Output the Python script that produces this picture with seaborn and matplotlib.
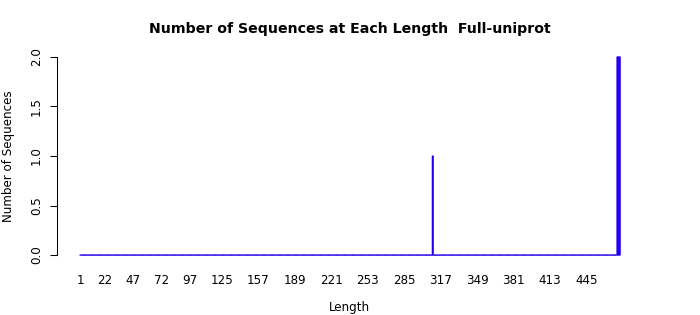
import numpy as np
import pandas as pd
import matplotlib
matplotlib.use("Agg")
import matplotlib.pyplot as plt
import seaborn as sns

# ---- data ----
max_length = 474
nonzero_counts = {310: 1, 472: 2, 473: 2, 474: 2}
lengths = list(range(1, max_length + 1))
counts = [nonzero_counts.get(L, 0) for L in lengths]
tick_labels = ["1", "22", "47", "72", "97", "125", "157", "189", "221",
               "253", "285", "317", "349", "381", "413", "445"]
y_ticks = [0.0, 0.5, 1.0, 1.5, 2.0]
title = "Number of Sequences at Each Length  Full-uniprot"
x_label = "Length"
y_label = "Number of Sequences"

df = pd.DataFrame({"length": lengths, "count": counts})

sns.set_style("white")
plt.rcParams["font.family"] = ["DejaVu Sans"]
plt.rcParams["text.color"] = "black"
plt.rcParams["axes.labelcolor"] = "black"

W, H = 700, 315
fig = plt.figure(figsize=(W / 100, H / 100), dpi=100)
# plot region in pixels: x 57..642, y 49..263 (from top)
ax = fig.add_axes([57 / W, 1 - 263 / H, (642 - 57) / W, (263 - 49) / H])

bar_color = "#2200ee"
sns.barplot(data=df, x="length", y="count", order=lengths, color=bar_color,
            saturation=1, width=1 / 1.2, edgecolor=bar_color, linewidth=0.8,
            errorbar=None, ax=ax)
for p in ax.patches:
    p.set_snap(False)
    p.set_joinstyle("miter")
    p.set_capstyle("projecting")

# pixel mapping: bar 1 center at 80.5 px, pitch 1.14 px
ppu = 1.14
ax.set_xlim((57 - 80.5) / ppu, (642 - 80.5) / ppu)
ax.set_ylim(-0.08, 2.08)

pos = [lengths.index(int(t)) for t in tick_labels]
ax.set_xticks(pos)
ax.set_xticklabels(tick_labels)
ax.set_yticks(y_ticks)
ax.set_yticklabels([f"{v:.1f}" for v in y_ticks], rotation=90, va="center")

for s in ["top", "right", "bottom"]:
    ax.spines[s].set_visible(False)
ax.spines["left"].set_bounds(0, 2)
ax.spines["left"].set_color("black")
ax.spines["left"].set_linewidth(0.75)

ax.tick_params(axis="x", length=0, pad=8, labelsize=8.6, colors="black")
ax.tick_params(axis="y", direction="out", length=5, width=0.75, pad=5,
               labelsize=8.6, colors="black", left=True)

ax.set_xlabel(x_label, fontsize=8.6, labelpad=0, color="black")
ax.xaxis.set_label_coords(0.5, -(307 - 263) / (263 - 49))
ax.xaxis.label.set_va("center")
ax.set_ylabel(y_label, fontsize=8.6, color="black")
ax.yaxis.set_label_coords(-(57 - 8.5) / (642 - 57), 0.5)
ax.yaxis.label.set_va("center")

ax.set_title(title, fontsize=10.2, fontweight="bold", color="black", pad=0,
             y=(263 - 29) / (263 - 49), va="center")

fig.savefig("out.png", dpi=100)
